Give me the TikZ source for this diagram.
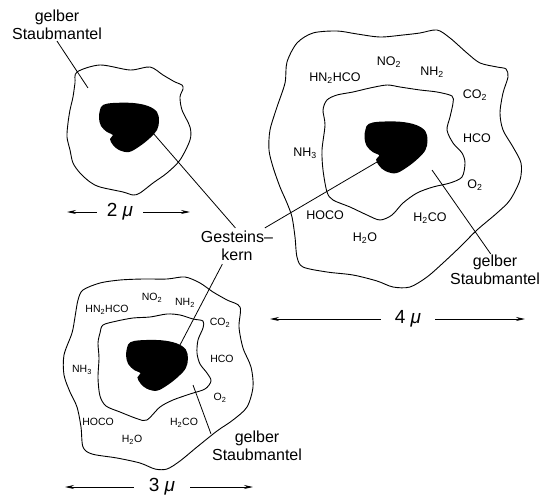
\documentclass[tikz,border=0pt]{standalone}
\usepackage{fontspec}
\setmainfont{Liberation Sans}
\usetikzlibrary{arrows.meta}
\begin{document}
\begin{tikzpicture}[x=1pt,y=-1pt,
  outline/.style={line width=0.9pt, line join=round},
  leader/.style={line width=0.8pt},
  lbl/.style={font=\fontsize{16}{18}\selectfont, align=center, inner sep=1pt},
  chem/.style={font=\fontsize{12.5}{13}\selectfont, inner sep=0.5pt},
  chems/.style={font=\fontsize{10.5}{11}\selectfont, inner sep=0.5pt},
  dim/.style={font=\fontsize{19}{20}\selectfont, inner sep=0pt},
  dimarrow/.style={-{Stealth[length=9pt,width=4pt]}, line width=0.9pt},
  kernel/.pic={
    \fill[black] plot[smooth cycle, tension=0.6] coordinates {
      (-29,-18) (-26,-23) (-16,-25) (4,-25) (19,-22) (28,-16) (30,-7)
      (28,2) (21,10) (11,18) (0,24) (-10,22) (-16,17) (-19,11)
      (-16,7) (-22,4) (-28,-2) (-30,-10)};
  }]
\useasboundingbox (0,0) rectangle (548,497);

% ---------- small particle (2 micron) ----------
\draw[outline] plot[smooth cycle] coordinates {
  (77,72) (100,65) (130,70) (150,67) (163,75) (175,82) (182,85) (183,89)
  (180,97) (182,110) (190,127) (190,140) (180,160) (167,173) (153,183)
  (140,193) (133,195) (123,192) (100,187) (90,182) (80,173) (73,163)
  (70,150) (67,137) (68,123) (70,110) (73,97) (75,83)};
\pic at (129,128) {kernel};

% ---------- large particle (4 micron) ----------
\draw[outline] plot[smooth cycle] coordinates {
  (270,130) (277,107) (285,83) (287,62) (297,43) (313,33) (337,31) (357,34)
  (380,37) (403,35) (420,33) (437,30) (450,38) (467,53) (480,63) (497,67)
  (506,69) (508,77) (503,93) (500,113) (503,130) (513,147) (521,163)
  (520,180) (510,200) (497,213) (477,230) (460,247) (443,263) (427,277)
  (410,287) (393,287) (377,281) (353,275) (327,272) (303,267) (297,257)
  (295,237) (292,217) (287,203) (280,187) (273,167) (269,150)};
\draw[outline] plot[smooth cycle] coordinates {
  (323,110) (327,100) (337,95) (353,92) (370,88) (387,85) (400,87) (420,90)
  (437,92) (452,96) (453,103) (450,117) (447,130) (453,143) (462,153)
  (465,163) (462,177) (450,183) (433,187) (417,193) (403,203) (392,215)
  (380,220) (367,215) (350,207) (333,200) (327,192) (323,170) (322,150)
  (325,125)};
\pic[scale=1.05] at (396,148) {kernel};

% ---------- medium particle (3 micron) ----------
\draw[outline] plot[smooth cycle] coordinates {
  (72,333) (75,317) (78,300) (83,290) (100,283) (120,280) (143,279)
  (167,279) (185,277) (200,283) (213,292) (227,300) (240,307) (239,327)
  (243,348) (251,367) (253,387) (247,407) (233,420) (217,431) (197,447)
  (180,461) (167,469) (155,469) (140,463) (117,458) (92,454) (83,447)
  (81,427) (77,407) (70,392) (64,375) (64,355)};
\draw[outline] plot[smooth cycle] coordinates {
  (100,333) (103,325) (117,321) (133,318) (150,317) (167,314) (180,315)
  (193,319) (203,321) (203,328) (198,340) (197,353) (200,364) (207,373)
  (211,381) (205,389) (190,394) (173,400) (160,407) (147,420) (138,419)
  (120,412) (106,406) (100,396) (98,378) (99,358) (98,343)};
\pic[scale=1.03] at (157,366) {kernel};

% ---------- molecule labels, large particle ----------
\node[chem] (a1) at (335,78)  {HN\textsubscript{2}HCO};
\node[chem] (a2) at (389,62)  {NO\textsubscript{2}};
\node[chem] (a3) at (432,72)  {NH\textsubscript{2}};
\node[chem] (a4) at (475,95)  {CO\textsubscript{2}};
\node[chem] (a5) at (477,138) {HCO};
\node[chem] (a6) at (475,185) {O\textsubscript{2}};
\node[chem] (a7) at (430,218) {H\textsubscript{2}CO};
\node[chem] (a8) at (365,238) {H\textsubscript{2}O};
\node[chem] (a9) at (325,215) {HOCO};
\node[chem] (a10) at (305,153) {NH\textsubscript{3}};

% ---------- molecule labels, medium particle ----------
\node[chems] (b1) at (107,310) {HN\textsubscript{2}HCO};
\node[chems] (b2) at (152,298) {NO\textsubscript{2}};
\node[chems] (b3) at (185,303) {NH\textsubscript{2}};
\node[chems] (b4) at (220,323) {CO\textsubscript{2}};
\node[chems] (b5) at (222,359) {HCO};
\node[chems] (b6) at (220,398) {O\textsubscript{2}};
\node[chems] (b7) at (184,423) {H\textsubscript{2}CO};
\node[chems] (b8) at (132,440) {H\textsubscript{2}O};
\node[chems] (b9) at (98,422)  {HOCO};
\node[chems] (b10) at (82,370) {NH\textsubscript{3}};

% ---------- callouts ----------
\node[lbl] (sm1) at (57,25)   {gelber\\Staubmantel};
\node[lbl] (sm2) at (495,270) {gelber\\Staubmantel};
\node[lbl] (sm3) at (257,446) {gelber\\Staubmantel};
\node[lbl, inner sep=3pt] (gk) at (237,246) {Gesteins--\\kern};

\coordinate (t1) at (88,88);
\coordinate (t2) at (432,170);
\coordinate (t3) at (193,385);
\coordinate (k1) at (153,133);
\coordinate (k2) at (377,162);
\coordinate (k3) at (180,345);

\draw[leader] (sm1.south) -- (t1);
\draw[leader] (sm2.105) -- (t2);
\draw[leader] (sm3.165) -- (t3);
\draw[leader] (gk.95) -- (k1);
\draw[leader] (gk.33) -- (k2);
\draw[leader] (gk.231) -- (k3);

% ---------- size bars ----------
\node[dim, inner xsep=10pt] (d2) at (120,212) {2 {\itshape μ}};
\coordinate (d2l) at (67,212);
\coordinate (d2r) at (190,212);
\draw[dimarrow] (d2) -- (d2l);
\draw[dimarrow] (d2) -- (d2r);

\node[dim, inner xsep=14pt] (d4) at (408,319) {4 {\itshape μ}};
\coordinate (d4l) at (270,319);
\coordinate (d4r) at (525,319);
\draw[dimarrow] (d4) -- (d4l);
\draw[dimarrow] (d4) -- (d4r);

\node[dim, inner xsep=15pt] (d3) at (162,487) {3 {\itshape μ}};
\coordinate (d3l) at (65,487);
\coordinate (d3r) at (253,487);
\draw[dimarrow] (d3) -- (d3l);
\draw[dimarrow] (d3) -- (d3r);
\end{tikzpicture}
\end{document}
